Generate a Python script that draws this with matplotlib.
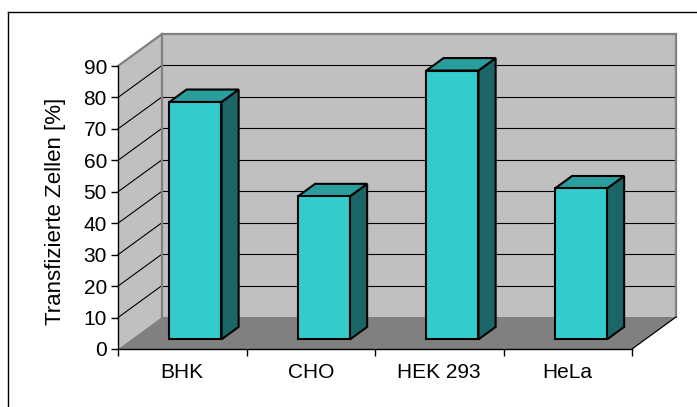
import matplotlib
matplotlib.use('Agg')
import matplotlib.pyplot as plt
from matplotlib.lines import Line2D

plt.rcParams['font.family'] = ['Liberation Sans', 'DejaVu Sans']

categories = ['BHK', 'CHO', 'HEK 293', 'HeLa']
values = [75.5, 45.5, 85.5, 48]
yticks = list(range(0, 100, 10))
ylabel = 'Transfizierte Zellen [%]'

W, H = 697, 407
# depth offset of the 3d box (in data units) and bar depth range
DX = 44 / 128.5
DY = 32 / (283 / 90)
D0, D1 = 0.30, 0.69
BAR_W = 0.405


def proj(x, y, d):
    return x + d * DX, y + d * DY


def poly(ax, pts, fc, ec='none', lw=0, z=1):
    xs = [p[0] for p in pts]
    ys = [p[1] for p in pts]
    ax.fill(xs, ys, facecolor=fc, edgecolor=ec, linewidth=lw, zorder=z,
            clip_on=False, joinstyle='miter')


def seg(ax, a, b, color, lw, z=1.5):
    ax.plot([a[0], b[0]], [a[1], b[1]], color=color, lw=lw, zorder=z,
            clip_on=False, solid_capstyle='projecting')


fig = plt.figure(figsize=(W / 100, H / 100), dpi=100)
fig.patch.set_facecolor('white')

ax = fig.add_axes([118 / W, 1 - 349 / H, 514 / W, 283 / H])
ax.set_xlim(0, len(categories))
ax.set_ylim(0, 90)
ax.patch.set_visible(False)

# walls and floor
n = len(categories)
poly(ax, [proj(0, 0, 0), proj(0, 90, 0), proj(0, 90, 1), proj(0, 0, 1)], '#c0c0c0')
poly(ax, [proj(0, 0, 1), proj(n, 0, 1), proj(n, 90, 1), proj(0, 90, 1)], '#c0c0c0')
poly(ax, [proj(0, 0, 0), proj(n, 0, 0), proj(n, 0, 1), proj(0, 0, 1)], '#808080')

# gridlines
for v in yticks[1:-1]:
    seg(ax, proj(0, v, 0), proj(0, v, 1), 'black', 0.8, 1.2)
    seg(ax, proj(0, v, 1), proj(n, v, 1), 'black', 0.8, 1.2)

# wall edges
gray = '#808080'
seg(ax, proj(0, 0, 1), proj(0, 90, 1), gray, 1.6)
seg(ax, proj(0, 90, 1), proj(n, 90, 1), gray, 1.6)
seg(ax, proj(n, 0, 1), proj(n, 90, 1), gray, 1.6)
seg(ax, proj(0, 90, 0), proj(0, 90, 1), gray, 1.6)
seg(ax, proj(n, 0, 0), proj(n, 0, 1), 'black', 0.9)

# bars
for i, v in enumerate(values):
    xc = i + 0.5
    x0, x1 = xc - BAR_W / 2, xc + BAR_W / 2
    front = [proj(x0, 0, D0), proj(x1, 0, D0), proj(x1, v, D0), proj(x0, v, D0)]
    side = [proj(x1, 0, D0), proj(x1, 0, D1), proj(x1, v, D1), proj(x1, v, D0)]
    top = [proj(x0, v, D0), proj(x1, v, D0), proj(x1, v, D1), proj(x0, v, D1)]
    poly(ax, side, '#1b6666', 'black', 1.5, 3)
    poly(ax, top, '#2a9d9d', 'black', 1.5, 3)
    poly(ax, front, '#33cccc', 'black', 1.5, 3)

# axes
for s in ['top', 'right']:
    ax.spines[s].set_visible(False)
for s in ['left', 'bottom']:
    ax.spines[s].set_color('black')
    ax.spines[s].set_linewidth(1)
    ax.spines[s].set_zorder(4)

ax.set_yticks(yticks)
ax.set_yticklabels([str(t) for t in yticks])
ax.tick_params(axis='y', direction='out', length=5, width=1, pad=3, labelsize=15)
ax.set_xticks(range(n + 1))
ax.set_xticklabels([])
ax.tick_params(axis='x', which='major', direction='out', length=5, width=1)
ax.set_xticks([i + 0.5 for i in range(n)], minor=True)
ax.set_xticklabels(categories, minor=True)
ax.tick_params(axis='x', which='minor', length=0, pad=10, labelsize=15)

fig.text(56 / W, 1 - 211 / H, ylabel, rotation=90, ha='center', va='center',
         fontsize=16)

# chart border (top and left visible)
fig.add_artist(Line2D([8.3 / W, 1.01], [1 - 11.7 / H] * 2,
                      transform=fig.transFigure, color='black', lw=1))
fig.add_artist(Line2D([8.3 / W] * 2, [-0.01, 1 - 11.7 / H],
                      transform=fig.transFigure, color='black', lw=1))

fig.savefig('out.png', dpi=100)
